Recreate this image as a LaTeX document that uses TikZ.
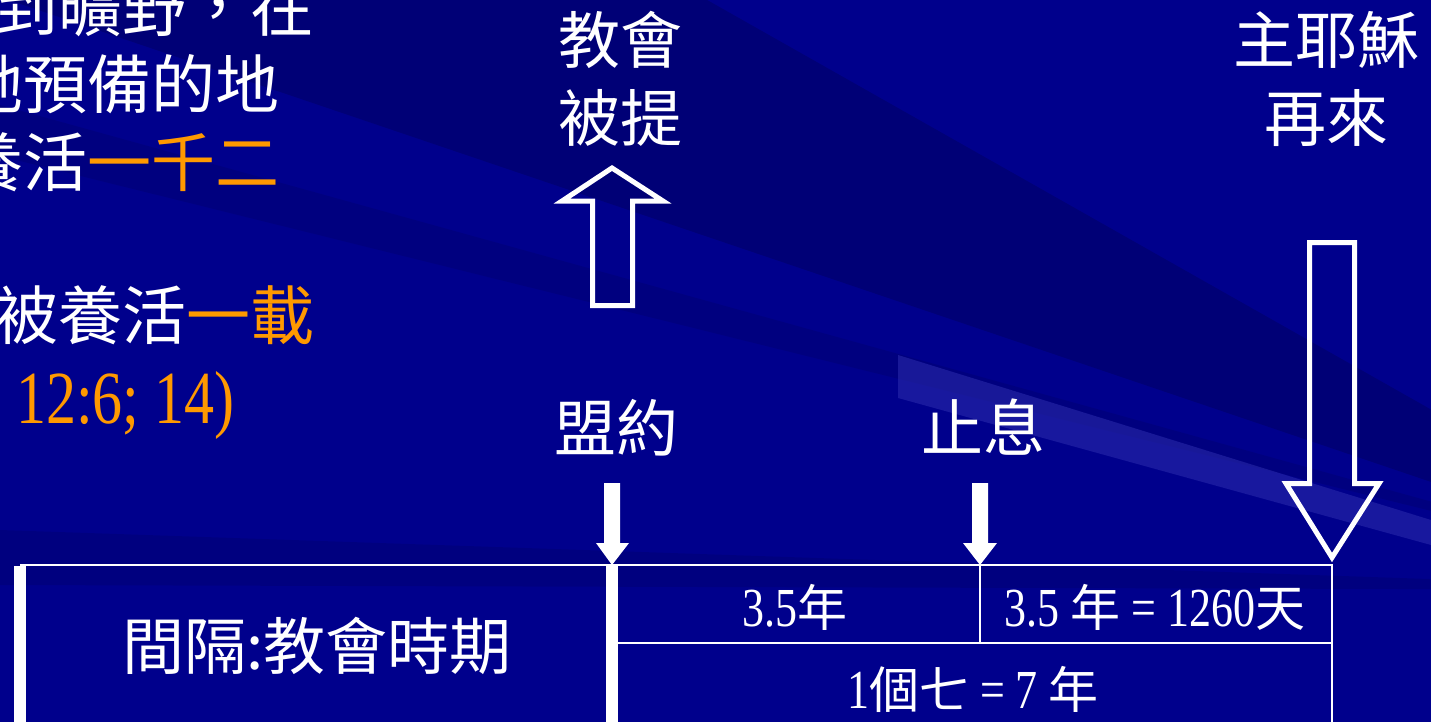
\documentclass[tikz,border=0pt]{standalone}
\usepackage{fontspec}
\setmainfont{Liberation Serif}[FakeStretch=0.8]
\newfontfamily\cjkfont{Noto Sans CJK TC}
\definecolor{bgbase}{RGB}{0,0,140}
\definecolor{bgdark}{RGB}{0,0,100}
\definecolor{bglight}{RGB}{40,40,170}
\definecolor{hl}{RGB}{255,153,0}
\newcommand\bigcj{\fontsize{64}{70}\selectfont\cjkfont}
\newcommand\lblcj{\fontsize{62}{70}\selectfont\cjkfont}
\newcommand\tcj[1]{{\fontsize{50}{60}\selectfont\cjkfont #1}}
\newcommand\tlat{\fontsize{55}{60}\selectfont}
\begin{document}
\begin{tikzpicture}[x=1pt,y=-1pt,
  lbl/.style={text=white, inner sep=0pt, anchor=base, font=\lblcj},
  lefttext/.style={text=white, inner sep=0pt, anchor=base east, font=\bigcj},
  celltext/.style={text=white, inner sep=0pt, anchor=base, font=\tlat},
  hollowarrow/.style={draw=white, line width=5pt, line join=miter, miter limit=10},
  solidarrow/.style={fill=white},
  rule/.style={draw=white, line width=1.8pt},
  bar/.style={draw=white, line width=12pt}]
\useasboundingbox (0,0) rectangle (1431,722);
\clip (0,0) rectangle (1431,722);
% background
\fill[bgbase] (0,0) rectangle (1431,722);
\fill[bgdark, opacity=0.55] (1750,590) -- (0,-3) -- (0,-400) -- cycle;
\fill[bgdark, opacity=0.3] (1750,590) -- (0,105) -- (0,156) -- cycle;
\fill[bgdark, opacity=0.3] (1750,590) -- (0,530) -- (0,585) -- cycle;
\fill[bglight, opacity=0.6] (898,355) -- (1431,520) -- (1431,545) -- (898,398) -- cycle;

% left text (cut off at the left edge)
\node[lefttext] (l1) at (315,32) {到曠野，在};
\node[lefttext] (l2) at (280,109) {她預備的地};
\node[lefttext] (l3) at (280,186) {養活\textcolor{hl}{一千二}};
\node[lefttext] (l5) at (315,339) {被養活\textcolor{hl}{一載}};
\node[text=hl, inner sep=0pt, anchor=base west, font=\fontsize{75}{80}\selectfont] (l6) at (16,423) {12:6; 14)};

% labels
\node[lbl] (church1) at (620,64) {教會};
\node[lbl] (church2) at (620,142) {被提};
\node[lbl] (lord1) at (1326,64) {主耶穌};
\node[lbl] (lord2) at (1326,142) {再來};
\node[lbl] (covenant) at (616,451) {盟約};
\node[lbl] (cease) at (983,451) {止息};

% table corners
\coordinate (tl) at (20,565);
\coordinate (tm) at (612,565);
\coordinate (tc) at (980,565);
\coordinate (tr) at (1332,565);
\coordinate (ml) at (612,643);
\coordinate (mc) at (980,643);
\coordinate (mr) at (1332,643);
\coordinate (bl) at (20,722);
\coordinate (bm) at (612,722);
\coordinate (br) at (1332,722);
\coordinate (lordtip) at (1332,557.5);

% hollow arrows
\draw[hollowarrow] (612,168) -- (663,201) -- (632.5,201) -- (632.5,305.5) -- (592.5,305.5) -- (592.5,201) -- (562,201) -- cycle;
\draw[hollowarrow] (1309.5,242.5) -- (1354.5,242.5) -- (1354.5,483.5) -- (1379,483.5) -- (lordtip) -- (1286,483.5) -- (1309.5,483.5) -- cycle;

% solid arrows
\fill[solidarrow] (604,483) -- (620,483) -- (620,543) -- (629,543) -- (tm) -- (596,543) -- (604,543) -- cycle;
\fill[solidarrow] (972,483) -- (988,483) -- (988,543) -- (997,543) -- (tc) -- (963,543) -- (972,543) -- cycle;

% table
\draw[rule] (tl) -- (tr) -- (br);
\draw[rule] (tc) -- (mc);
\draw[rule] (ml) -- (mr);
\draw[bar] ([yshift=-1pt]tl) -- (bl);
\draw[bar] ([yshift=-1pt]tm) -- (bm);

% table texts
\node[lbl, font=\fontsize{62}{70}\selectfont\cjkfont] (gap) at (317,669) {間隔:教會時期};
\node[celltext] (c1) at (795,626) {3.5\tcj{年}};
\node[celltext] (c2) at (1155,626) {3.5 \tcj{年} = 1260\tcj{天}};
\node[celltext] (c3) at (973,708) {1\tcj{個七} = 7 \tcj{年}};
\end{tikzpicture}
\end{document}
